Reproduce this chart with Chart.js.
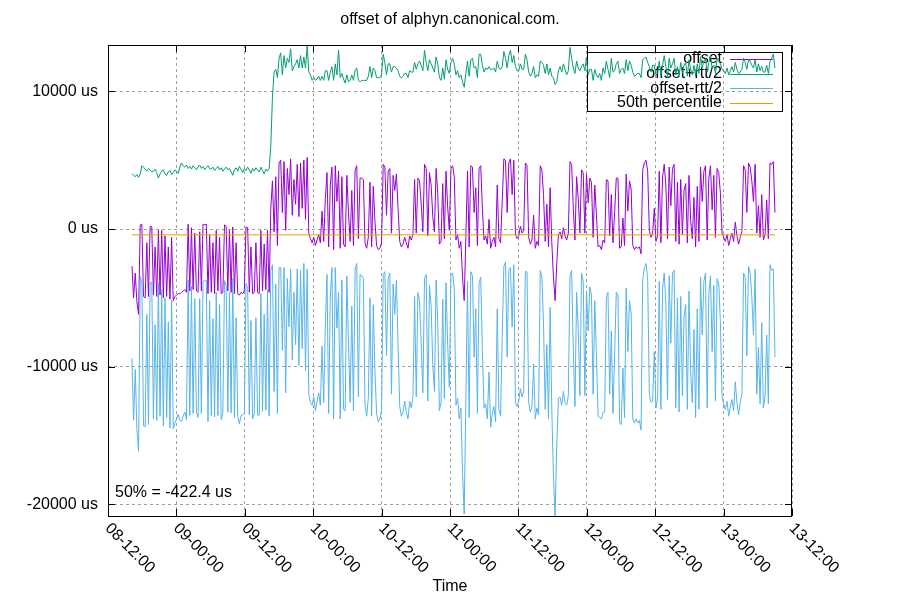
<!DOCTYPE html>
<html>
<head>
<meta charset="utf-8">
<title>offset of alphyn.canonical.com.</title>
<script src="https://cdn.jsdelivr.net/npm/chart.js@4.4.1/dist/chart.umd.min.js"></script>
<style>
  html, body { margin: 0; padding: 0; background: #ffffff; }
  #wrap { width: 900px; height: 600px; }
</style>
</head>
<body>
<div id="wrap"><canvas id="chart" width="900" height="600"></canvas></div>
<script>
(function () {
	'use strict';

	// x axis is in hours counted from day 08, 00:00
	var xTickHours = [12, 24, 36, 48, 60, 72, 84, 96, 108, 120, 132];
	var xTickLabels = ['08-12:00', '09-00:00', '09-12:00', '10-00:00', '10-12:00', '11-00:00',
		'11-12:00', '12-00:00', '12-12:00', '13-00:00', '13-12:00'];
	var yTickValues = [-20000, -10000, 0, 10000];

	// polled every ~17 min, first sample at 08-16:12
	var sampleStartH = 16.2;
	var sampleStepH = 0.29;

	// offset in us
	var offsetUs = [
		-2700, -5000, -3200, -5300, -6200, 300, 350, -4900, -5000, -1000,
		-4900, 200, 150, -4800, -1300, -4900, -100, -4800, -100, -5000,
		-500, -4900, -1300, -5100, -600, -5200, -4900, -4800, -4700, -4700,
		-4600, -4500, -4400, -4600, 350, -4500, 100, -4400, -300, -4500,
		-4600, -200, -4500, 350, 300, 350, -4700, -400, -4600, -1000,
		-4700, -100, -4500, -600, -4700, -4600, 300, 200, -4500, -100,
		-4600, 150, -4700, -1000, -4700, -4800, -4600, -4700, -4500, 150,
		100, -4600, -1300, -4700, -4600, -1000, -4600, -4700, -100, -4500,
		-1100, -4400, -100, -4600, 1500, 3500, -200, 3800, -1200, 4800,
		5000, 1200, 4900, -100, 4400, 2500, 5100, 1000, 3600, 1800,
		4700, 900, 4800, 1500, 5000, 700, 5200, -300, -700, -1000,
		-600, -1200, -800, -400, -1000, 1300, -900, 2200, 4100, -1300,
		3200, 4500, -1500, 4600, 2000, 4200, -1400, 3800, -1100, -1300,
		3900, 1200, -900, 2800, -1200, 4300, 4600, -700, 3700, 3700,
		3600, -1000, -1400, -600, 3400, -1300, 3100, 600, -1200, -1500,
		-1400, -1000, 4700, 4500, 1000, 4200, 4400, -300, 3900, 2800,
		4000, 1500, -900, -1300, -1100, -600, -1000, -1400, -500, -800,
		-400, 3600, -300, 3700, 3500, 1800, -200, 4700, 4400, -500,
		4100, 3200, 900, -200, 4400, 2600, -1100, -900, 3300, -700,
		4200, 1600, -100, 4400, 4600, 3800, -800, -400, -1400, -900,
		-3500, -5200, -600, 4200, -1300, 4600, 4500, 1200, 3000, -1200,
		4400, 4600, 1500, -800, -500, -1100, 700, -1400, -900, -600,
		-1300, 3200, -700, -1000, 2000, 5100, 5000, 1200, 4800, 5100,
		2500, 5000, -400, -700, -500, 200, -300, -100, 4800, 4600,
		-600, -1100, -800, 1000, -1400, -900, -1200, 4600, 4300, 2500,
		-900, 1800, -1300, 3000, -1000, -3500, -5200, -2500, -400, -200,
		-700, 100, -500, -800, -300, 4900, 4700, 1500, -800, 3800,
		2200, -300, 4300, 4100, -300, 4000, 1900, 3700, 3400, -600,
		3200, 1000, -1300, -1200, -1500, -800, -1000, 3600, 3500, -500,
		2500, -1000, 1200, 3700, 3700, -1400, -1300, 800, -1200, 4000,
		1300, 3500, 2900, -1200, -1500, -1300, -1400, -1300, -1800, 4300,
		4800, 5000, 4200, -100, -600, -300, 1500, -900, -500, 4200,
		-1000, 3800, 4700, 3200, -700, 4500, 1700, 4400, 4700, -900,
		3400, -1100, 3600, -400, 2800, 3300, -1000, 3900, 600, -700,
		2300, -1300, 3100, -900, 4500, 2000, 4200, 4600, -800, 3700,
		4600, 1400, 3900, -600, 4400, 4100, 2600, -300, -600, -900,
		-400, -1200, -700, -300, -900, 500, -500, -1100, -600, -200,
		4600, 4300, 1200, 4800, 4500, 3500, 2000, 4700, -300, 1700,
		-600, 2500, -800, -400, 2100, -700, 4800, 4700, 4900, 1200
	];

	// round trip time in us for the same samples
	var rttUs = [
		13400, 17800, 14000, 18500, 19900, 7400, 8500, 18800, 18700, 10400,
		18600, 8200, 8000, 18000, 11300, 18000, 7600, 17600, 8600, 18600,
		9000, 17600, 10900, 18700, 9100, 18600, 18400, 18000, 17500, 18400,
		18800, 18200, 17800, 18500, 8100, 18100, 8500, 18000, 9500, 17600,
		18200, 9700, 17800, 8400, 8000, 8200, 18600, 9600, 17900, 11000,
		17900, 9000, 18100, 9800, 18300, 17600, 8100, 8600, 17600, 9000,
		17500, 7500, 18000, 10900, 17800, 18700, 17900, 17600, 17800, 8200,
		8800, 17800, 10700, 18200, 17600, 10900, 17800, 17700, 9200, 17500,
		10200, 17500, 8600, 18000, 9000, 12200, 23200, 15600, 24400, 15200,
		15600, 20000, 15400, 23600, 16000, 19200, 16000, 21000, 16400, 20400,
		15200, 21600, 15600, 20400, 15000, 22000, 16200, 23400, 23800, 23600,
		23200, 24000, 23400, 23000, 23600, 19600, 23400, 18600, 14800, 24200,
		16400, 14600, 24600, 14800, 18400, 17600, 24800, 15000, 24000, 23800,
		14600, 19000, 23400, 16800, 24000, 14400, 14200, 23000, 14000, 14200,
		14400, 23600, 24400, 23400, 16800, 24600, 17200, 21800, 24400, 25000,
		24800, 24400, 16000, 15200, 20400, 15600, 15200, 23400, 15800, 18000,
		15400, 20000, 24000, 24600, 24400, 23800, 24600, 24800, 24000, 24400,
		23600, 17000, 23800, 16600, 17400, 20200, 23400, 16600, 15400, 24000,
		16400, 17600, 21600, 23200, 16200, 18800, 24200, 23400, 16800, 23200,
		16200, 20000, 22800, 15400, 15600, 16400, 24000, 23800, 24800, 24200,
		28400, 31000, 23800, 16000, 24800, 15400, 15800, 21000, 17600, 24400,
		16600, 16200, 20800, 24400, 24400, 25400, 22200, 26000, 25000, 24600,
		25400, 18000, 24800, 25200, 19600, 15600, 14800, 21000, 15600, 15800,
		19200, 15200, 24400, 24400, 24000, 23600, 23800, 23400, 15800, 15400,
		24000, 24400, 24200, 21600, 24800, 24200, 24600, 15200, 15600, 18800,
		24400, 20400, 25000, 17400, 24200, 29000, 31400, 26400, 23800, 24000,
		24200, 23800, 24200, 24000, 23600, 16600, 15400, 20400, 24200, 16800,
		19000, 23600, 15000, 15800, 23600, 17000, 18600, 15800, 16400, 22800,
		16800, 20400, 24600, 25000, 24600, 25000, 24600, 17200, 16200, 23000,
		19800, 24800, 20600, 16600, 17000, 25400, 25800, 21800, 25000, 16600,
		20400, 17400, 18000, 25200, 25200, 25000, 25400, 25200, 25600, 16000,
		15200, 15000, 15800, 23800, 24000, 24400, 20800, 24200, 23600, 16000,
		24200, 16200, 15800, 17200, 23400, 15800, 20000, 15200, 15400, 24200,
		16800, 24400, 17000, 23400, 18200, 17600, 24200, 16800, 22000, 23800,
		19200, 24800, 17800, 24400, 16000, 19400, 16000, 15600, 24400, 16800,
		16000, 20600, 16000, 23800, 16000, 16200, 18800, 23800, 24200, 24400,
		24200, 24800, 24400, 24200, 24600, 23200, 24200, 24800, 24000, 23600,
		15600, 15600, 20800, 15000, 15400, 16800, 19400, 15200, 23400, 20600,
		24200, 18600, 24400, 23600, 19600, 24000, 14800, 15400, 15600, 21000
	];

	var medianUs = -422.4;

	var purple = '#9400d3';
	var green = '#009e73';
	var blue = '#56b4e9';
	var orange = '#e69f00';
	var fontFamily = '"Liberation Sans", Arial, sans-serif';

	function sampleHour(i) {
		return sampleStartH + i * sampleStepH;
	}

	var offsetPts = offsetUs.map(function (o, i) { return { x: sampleHour(i), y: o }; });
	var plusPts = offsetUs.map(function (o, i) { return { x: sampleHour(i), y: o + rttUs[i] / 2 }; });
	var minusPts = offsetUs.map(function (o, i) { return { x: sampleHour(i), y: o - rttUs[i] / 2 }; });
	var lastH = sampleHour(offsetUs.length - 1);
	var medianPts = [{ x: sampleStartH, y: medianUs }, { x: lastH, y: medianUs }];

	// gnuplot look: border, inward ticks, slanted time labels, key box
	var gnuplotFrame = {
		id: 'gnuplotFrame',
		beforeDatasetsDraw: function (chart) {
			var ctx = chart.ctx;
			var a = chart.chartArea;
			var boxRight = a.right - 10;
			var boxTop = a.top + 7;
			ctx.save();
			ctx.lineWidth = 1;
			ctx.strokeStyle = '#000000';
			ctx.strokeRect(boxRight - 195 + 0.5, boxTop + 0.5, 195, 59);
			ctx.font = '16px ' + fontFamily;
			ctx.fillStyle = '#000000';
			ctx.textAlign = 'right';
			ctx.textBaseline = 'middle';
			chart.data.datasets.forEach(function (ds, i) {
				var y = boxTop + 7 + i * 14.6;
				ctx.fillText(ds.label, boxRight - 60, y);
				ctx.beginPath();
				ctx.strokeStyle = ds.borderColor;
				ctx.moveTo(boxRight - 52, Math.round(y) + 0.5);
				ctx.lineTo(boxRight - 9, Math.round(y) + 0.5);
				ctx.stroke();
			});
			ctx.restore();
		},
		afterDraw: function (chart) {
			var ctx = chart.ctx;
			var a = chart.chartArea;
			var xs = chart.scales.x;
			var ys = chart.scales.y;
			var tick = 7;
			ctx.save();
			ctx.lineWidth = 1;
			ctx.strokeStyle = '#000000';
			ctx.strokeRect(a.left + 0.5, a.top + 0.5, a.right - a.left - 1, a.bottom - a.top);

			ctx.beginPath();
			yTickValues.forEach(function (v) {
				var y = Math.round(ys.getPixelForValue(v)) + 0.5;
				ctx.moveTo(a.left, y); ctx.lineTo(a.left + tick, y);
				ctx.moveTo(a.right, y); ctx.lineTo(a.right - tick, y);
			});
			xTickHours.forEach(function (h) {
				var x = Math.round(xs.getPixelForValue(h)) + 0.5;
				ctx.moveTo(x, a.bottom); ctx.lineTo(x, a.bottom - tick);
				ctx.moveTo(x, a.top); ctx.lineTo(x, a.top + tick);
			});
			ctx.stroke();

			ctx.font = '16px ' + fontFamily;
			ctx.fillStyle = '#000000';
			ctx.textAlign = 'left';
			ctx.textBaseline = 'middle';
			xTickHours.forEach(function (h, i) {
				var x = xs.getPixelForValue(h);
				ctx.save();
				ctx.translate(x - 0.5, a.bottom + 10);
				ctx.rotate(Math.PI / 4);
				ctx.fillText(xTickLabels[i], 0, 0);
				ctx.restore();
			});

			ctx.fillText('50% = ' + medianUs.toFixed(1) + ' us', a.left + 7, ys.getPixelForValue(-19150));
			ctx.restore();
		}
	};

	var gridOpts = { color: '#a0a0a0', lineWidth: 1, drawTicks: false };
	var borderOpts = { display: false, dash: [3, 3] };

	new Chart(document.getElementById('chart'), {
		type: 'line',
		data: {
			datasets: [{
				label: 'offset',
				data: offsetPts,
				borderColor: purple,
				order: 4
			}, {
				label: 'offset+rtt/2',
				data: plusPts,
				borderColor: green,
				order: 3
			}, {
				label: 'offset-rtt/2',
				data: minusPts,
				borderColor: blue,
				order: 2
			}, {
				label: '50th percentile',
				data: medianPts,
				borderColor: orange,
				order: 1
			}]
		},
		options: {
			responsive: false,
			animation: false,
			events: [],
			datasets: {
				line: {
					borderWidth: 1,
					pointRadius: 0,
					fill: false,
					tension: 0
				}
			},
			layout: { padding: 0 },
			plugins: {
				legend: { display: false },
				tooltip: { enabled: false },
				title: {
					display: true,
					text: 'offset of alphyn.canonical.com.',
					color: '#000000',
					font: { family: fontFamily, size: 16, weight: 'normal' },
					padding: { top: 10, bottom: 15.8 }
				}
			},
			scales: {
				x: {
					type: 'linear',
					min: 12,
					max: 132,
					afterBuildTicks: function (s) {
						s.ticks = xTickHours.map(function (h) { return { value: h }; });
					},
					afterFit: function (s) { s.height = 84; },
					ticks: { display: false },
					grid: gridOpts,
					border: borderOpts,
					title: {
						display: true,
						text: 'Time',
						color: '#000000',
						font: { family: fontFamily, size: 16 },
						padding: { top: 0, bottom: 4 }
					}
				},
				y: {
					type: 'linear',
					min: -20850,
					max: 13370,
					afterBuildTicks: function (s) {
						s.ticks = yTickValues.map(function (v) { return { value: v }; });
					},
					afterFit: function (s) { s.width = 108; },
					ticks: {
						color: '#000000',
						font: { family: fontFamily, size: 16 },
						padding: 10,
						callback: function (v) { return v + ' us'; }
					},
					grid: gridOpts,
					border: borderOpts
				},
				yRight: {
					type: 'linear',
					position: 'right',
					afterFit: function (s) { s.width = 108; },
					ticks: { display: false },
					grid: { display: false },
					border: { display: false }
				}
			}
		},
		plugins: [gnuplotFrame]
	});
})();
</script>
</body>
</html>
